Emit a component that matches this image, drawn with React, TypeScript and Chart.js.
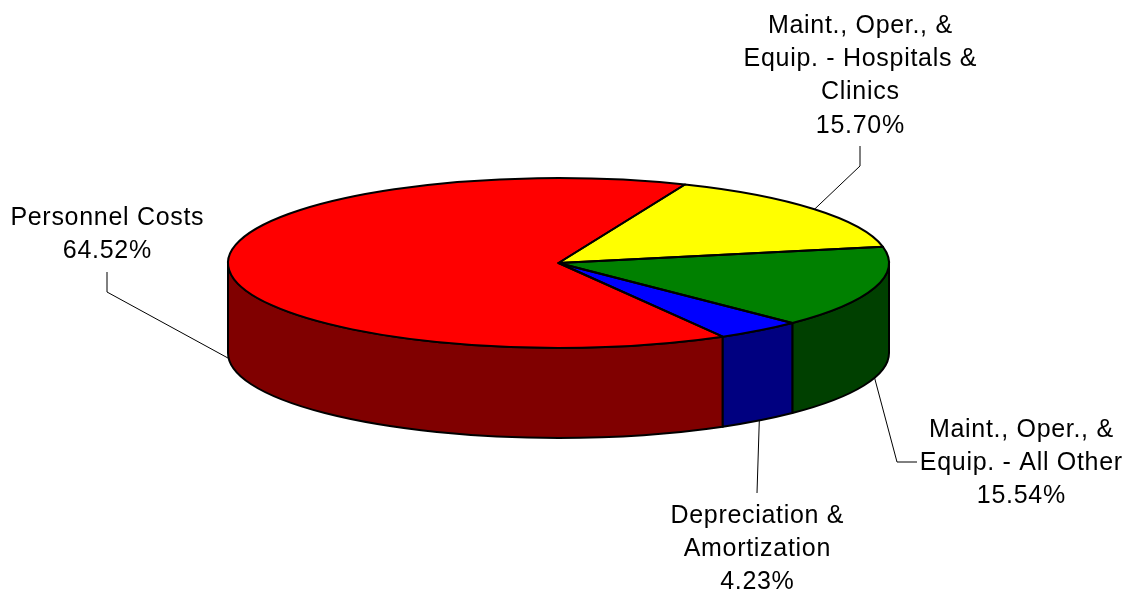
import React, { useEffect, useRef } from 'react';
import { Chart, registerables } from 'chart.js';

Chart.register(...registerables);

// ---- data ----
const categories = [
  'Personnel Costs',
  'Maint., Oper., & Equip. - Hospitals & Clinics',
  'Maint., Oper., & Equip. - All Other',
  'Depreciation & Amortization',
];
const labelLines = [
  ['Personnel Costs'],
  ['Maint., Oper., &', 'Equip. - Hospitals &', 'Clinics'],
  ['Maint., Oper., &', 'Equip. - All Other'],
  ['Depreciation &', 'Amortization'],
];
const values = [64.52, 15.7, 15.54, 4.23];

// ---- styles / layout ----
const topColors = ['#FF0000', '#FFFF00', '#008000', '#0000FF'];
const sideColors = ['#800000', '#808000', '#004000', '#000080'];
const labelLayout = [
  { x: 107, firstBaseline: 225, leader: [[107, 272], [107, 292]] },
  { x: 860, firstBaseline: 33, leader: [[860, 146], [860, 166]] },
  { x: 1021, firstBaseline: 437, leader: [[917, 462], [897, 462]] },
  { x: 757, firstBaseline: 523, leader: [[757, 493]] },
];
const LINE_H = 33.2;
const TILT = 0.257;
const DEPTH = 90;
const FONT = '25px "Liberation Sans", Arial, sans-serif';
const LETTER_SPACING = 0.7;

const pie3d = {
  id: 'pie3d',
  beforeDatasetsDraw(chart: any) {
    const ctx: CanvasRenderingContext2D = chart.ctx;
    const arcs = chart.getDatasetMeta(0).data;
    ctx.save();
    if (!arcs.length) return;
    const { x: cx, y: cy, outerRadius: r } = arcs[0].getProps(['x', 'y', 'outerRadius'], true);
    const ry = r * TILT;
    ctx.lineWidth = 2;
    ctx.strokeStyle = '#000';
    ctx.lineJoin = 'round';
    arcs.forEach((arc: any, i: number) => {
      const { startAngle, endAngle } = arc.getProps(['startAngle', 'endAngle'], true);
      for (let k = -2; k <= 2; k++) {
        const s = Math.max(startAngle + k * 2 * Math.PI, 0);
        const e = Math.min(endAngle + k * 2 * Math.PI, Math.PI);
        if (e - s > 1e-6) {
          ctx.beginPath();
          ctx.ellipse(cx, cy, r, ry, 0, s, e);
          ctx.ellipse(cx, cy + DEPTH, r, ry, 0, e, s, true);
          ctx.closePath();
          ctx.fillStyle = sideColors[i];
          ctx.fill();
          ctx.stroke();
        }
      }
    });
    // squash the top face drawn by Chart.js
    ctx.translate(0, cy);
    ctx.scale(1, TILT);
    ctx.translate(0, -cy);
  },
  afterDatasetsDraw(chart: any) {
    const ctx: CanvasRenderingContext2D = chart.ctx;
    ctx.restore();
    const arcs = chart.getDatasetMeta(0).data;
    if (!arcs.length) return;
    const { x: cx, y: cy, outerRadius: r } = arcs[0].getProps(['x', 'y', 'outerRadius'], true);
    const ry = r * TILT;
    ctx.save();
    ctx.lineWidth = 2;
    ctx.strokeStyle = '#000';
    ctx.lineJoin = 'round';
    arcs.forEach((arc: any) => {
      const { startAngle, endAngle } = arc.getProps(['startAngle', 'endAngle'], true);
      ctx.beginPath();
      ctx.moveTo(cx, cy);
      ctx.ellipse(cx, cy, r, ry, 0, startAngle, endAngle);
      ctx.closePath();
      ctx.stroke();
    });
    // labels + leader lines
    ctx.font = FONT;
    (ctx as any).letterSpacing = LETTER_SPACING + 'px';
    ctx.fillStyle = '#000';
    ctx.textAlign = 'center';
    ctx.textBaseline = 'alphabetic';
    arcs.forEach((arc: any, i: number) => {
      const { startAngle, endAngle } = arc.getProps(['startAngle', 'endAngle'], true);
      const mid = (startAngle + endAngle) / 2;
      const ax = cx + r * Math.cos(mid);
      const ay = cy + ry * Math.sin(mid) + (Math.sin(mid) > 0 ? DEPTH : 0);
      const lay = labelLayout[i];
      ctx.beginPath();
      ctx.lineWidth = 1;
      ctx.strokeStyle = '#000';
      ctx.moveTo(lay.leader[0][0], lay.leader[0][1]);
      for (let j = 1; j < lay.leader.length; j++) ctx.lineTo(lay.leader[j][0], lay.leader[j][1]);
      ctx.lineTo(ax, ay);
      ctx.stroke();
      const lines = [...labelLines[i], values[i].toFixed(2) + '%'];
      lines.forEach((t, j) => ctx.fillText(t, lay.x + LETTER_SPACING / 2, lay.firstBaseline + j * LINE_H));
    });
    ctx.restore();
  },
};

export default function App() {
  const ref = useRef<HTMLCanvasElement>(null);
  useEffect(() => {
    const chart = new Chart(ref.current as HTMLCanvasElement, {
      type: 'pie',
      data: {
        labels: categories,
        datasets: [
          {
            data: values,
            backgroundColor: topColors,
            borderWidth: 0,
            clip: false as any,
          } as any,
        ],
      },
      options: {
        responsive: false,
        animation: false,
        events: [],
        rotation: 150.2,
        radius: 330.5,
        layout: { padding: { left: 0, right: 9, top: 0, bottom: 64 } },
        plugins: { legend: { display: false }, tooltip: { enabled: false } },
      } as any,
      plugins: [pie3d],
    });
    return () => chart.destroy();
  }, []);
  return (
    <div style={{ position: 'fixed', left: 0, top: 0, width: 1126, height: 590, background: '#fff' }}>
      <canvas ref={ref} width={1126} height={590} style={{ display: 'block', width: 1126, height: 590 }} />
    </div>
  );
}
